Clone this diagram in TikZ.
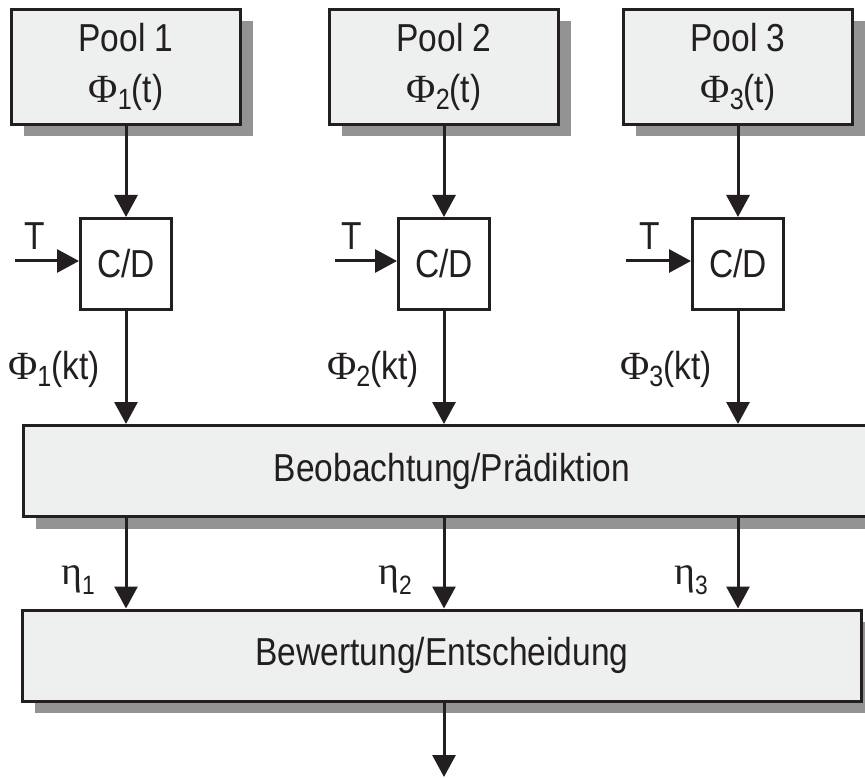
\documentclass[tikz,border=0pt]{standalone}
\usepackage{graphicx}
\usepackage{fontspec}
\setmainfont{Liberation Sans}[FakeStretch=0.86]
\newfontfamily\grk{Liberation Serif}
\definecolor{dkline}{RGB}{35,31,32}
\definecolor{boxfill}{RGB}{238,240,239}
\definecolor{shgray}{RGB}{147,147,147}
\usetikzlibrary{arrows.meta,shadows}
\newcommand{\phisub}[1]{{\grk\fontsize{40}{44}\selectfont Φ}\raisebox{-7pt}{\scalebox{0.75}{#1}}}
\newcommand{\etasub}[1]{{\grk\fontsize{40}{44}\selectfont η}\raisebox{-10pt}{\scalebox{0.68}{#1}}}

\begin{document}
\begin{tikzpicture}[x=1pt, y=-1pt,
  pbox/.style={rectangle, draw=dkline, line width=3pt, fill=boxfill,
               minimum width=229pt, minimum height=115pt, align=center,
               text=dkline, font=\fontsize{39}{51}\selectfont, inner sep=0pt,
               drop shadow={shadow xshift=12pt, shadow yshift=-12pt,
                            fill=shgray, opacity=1}},
  wbox/.style={pbox, minimum height=91pt},
  cdbox/.style={rectangle, draw=dkline, line width=3pt, fill=white,
               minimum width=91pt, minimum height=91pt, inner sep=0pt,
               text=dkline, font=\fontsize{39}{44}\selectfont},
  lbl/.style={inner sep=0pt, text=dkline, font=\fontsize{39}{44}\selectfont},
  arr/.style={-{Triangle[length=22pt, width=23pt]}, line width=3pt, draw=dkline}
]
\useasboundingbox (0,0) rectangle (865,778);

% Pools (top row)
\node[pbox] (pool1) at (126,67)  {Pool 1\\\phisub{1}(t)};
\node[pbox] (pool2) at (444,67)  {Pool 2\\\phisub{2}(t)};
\node[pbox] (pool3) at (738,67)  {Pool 3\\\phisub{3}(t)};

% Sampling blocks
\node[cdbox] (cd1) at (126,264) {C/D};
\node[cdbox] (cd2) at (444,264) {C/D};
\node[cdbox] (cd3) at (738,264) {C/D};

% Clock inputs
\coordinate (t1) at (15,261);
\coordinate (t2) at (335,261);
\coordinate (t3) at (626,261);
\node[lbl] (tl1) at (35,236)  {T};
\node[lbl] (tl2) at (352,236) {T};
\node[lbl] (tl3) at (650,236) {T};

% Wide blocks
\node[wbox, minimum width=857pt] (beob) at (452,471) {Beobachtung/Prädiktion};
\node[wbox, minimum width=839pt] (bew) at (442,655.5) {Bewertung/Entscheidung};
\coordinate (out) at (444,777);

% Signal labels
\node[lbl, anchor=east] (kt1) at (100,369) {\phisub{1}(kt)};
\node[lbl, anchor=east] (kt2) at (419,369) {\phisub{2}(kt)};
\node[lbl, anchor=east] (kt3) at (712,369) {\phisub{3}(kt)};
\node[lbl, anchor=east] (eta1) at (95,580)  {\etasub{1}};
\node[lbl, anchor=east] (eta2) at (412,580) {\etasub{2}};
\node[lbl, anchor=east] (eta3) at (708,580) {\etasub{3}};

% Arrows
\draw[arr] (pool1) -- (cd1);
\draw[arr] (pool2) -- (cd2);
\draw[arr] (pool3) -- (cd3);
\draw[arr] (t1) -- (t1 -| cd1.west);
\draw[arr] (t2) -- (t2 -| cd2.west);
\draw[arr] (t3) -- (t3 -| cd3.west);
\draw[arr] (cd1) -- (cd1 |- beob.north);
\draw[arr] (cd2) -- (cd2 |- beob.north);
\draw[arr] (cd3) -- (cd3 |- beob.north);
\draw[arr] (cd1 |- beob.south) -- (cd1 |- bew.north);
\draw[arr] (cd2 |- beob.south) -- (cd2 |- bew.north);
\draw[arr] (cd3 |- beob.south) -- (cd3 |- bew.north);
\draw[arr] (out |- bew.south) -- (out);
\end{tikzpicture}
\end{document}
